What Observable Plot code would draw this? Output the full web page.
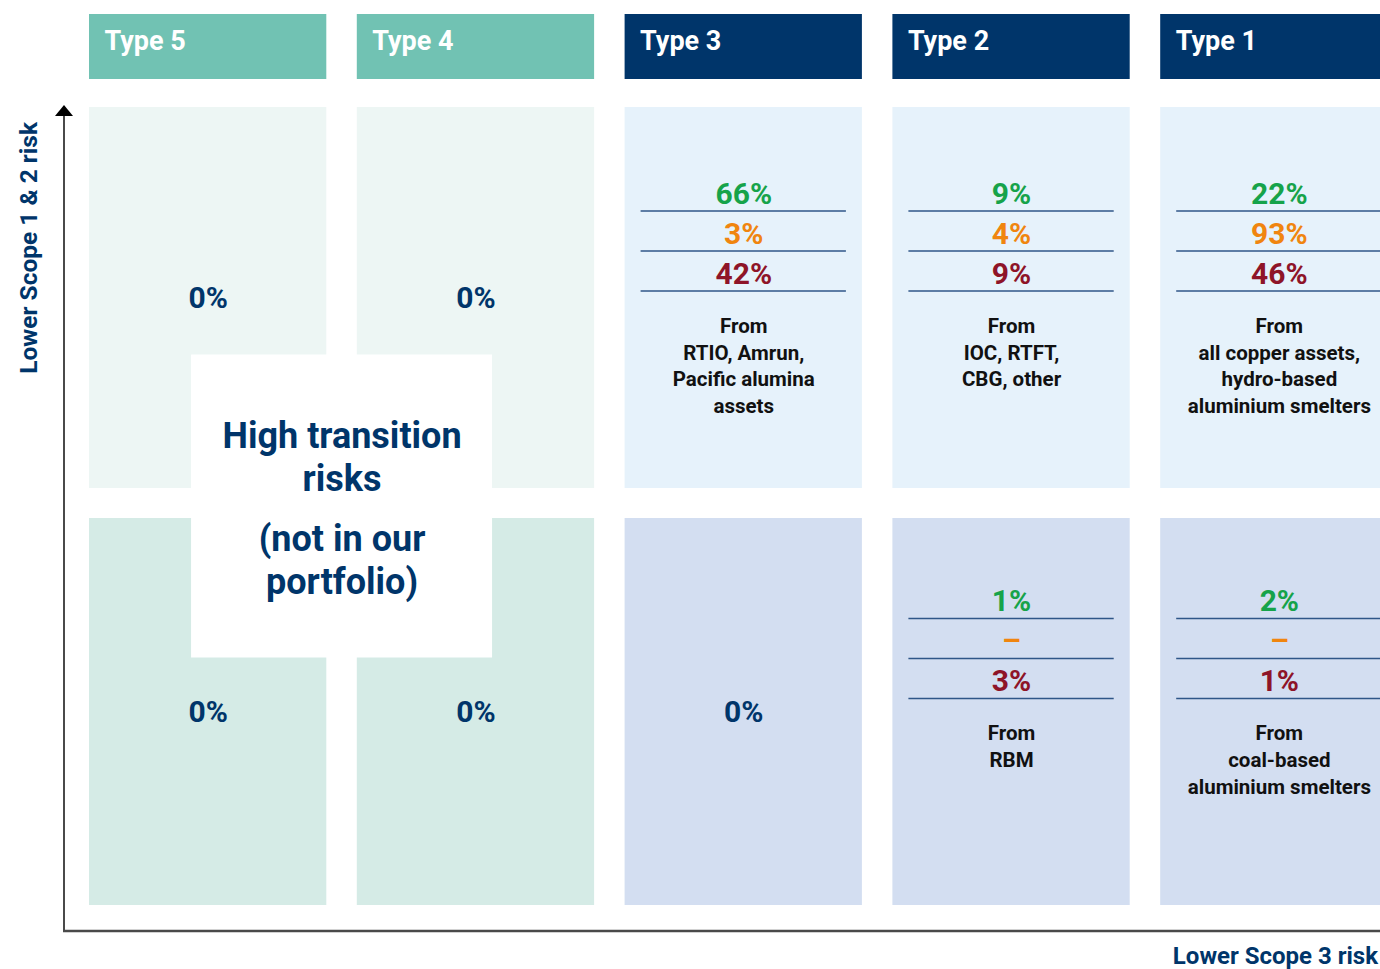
<!DOCTYPE html>
<html>
<head>
<meta charset="utf-8">
<script src="https://cdn.jsdelivr.net/npm/d3@7"></script>
<script src="https://cdn.jsdelivr.net/npm/@observablehq/plot@0.6"></script>
<style>
  html, body { margin: 0; padding: 0; background: #fff; overflow: hidden; }
  #chart svg { display: block; }
</style>
</head>
<body>
<div id="chart"></div>
<script>
// ---------------- DATA ----------------
const types = ["Type 5", "Type 4", "Type 3", "Type 2", "Type 1"];
const typeGroups = ["teal", "teal", "navy", "navy", "navy"];
const rows = ["upper", "lower"];

const upperGreen  = [null, null, "66%", "9%", "22%"];
const upperOrange = [null, null, "3%", "4%", "93%"];
const upperRed    = [null, null, "42%", "9%", "46%"];
const upperSources = [null, null,
  "From\nRTIO, Amrun,\nPacific alumina\nassets",
  "From\nIOC, RTFT,\nCBG, other",
  "From\nall copper assets,\nhydro-based\naluminium smelters"];

const lowerGreen  = [null, null, null, "1%", "2%"];
const lowerOrange = [null, null, null, "–", "–"];
const lowerRed    = [null, null, null, "3%", "1%"];
const lowerSources = [null, null, null,
  "From\nRBM",
  "From\ncoal-based\naluminium smelters"];

const emptyValue = "0%";
const overlayTitle = "High transition\nrisks";
const overlayNote = "(not in our\nportfolio)";
const yAxisLabel = "Lower Scope 1 & 2 risk";
const xAxisLabel = "Lower Scope 3 risk";

// ---------------- STYLE / LAYOUT ----------------
const W = 1380, H = 969;
const NAVY = "#00356a", TEAL = "#71c2b3";
const GREEN = "#16a34a", ORANGE = "#f0850f", RED = "#8e1428";
const RULE = "#2f5688", INK = "#111111", AXIS = "#4a4a4a";
const FONT = "Roboto, 'Noto Sans', sans-serif";
const headerFill = {teal: TEAL, navy: NAVY};
const cellFill = {
  teal: {upper: "#edf6f4", lower: "#d5ebe6"},
  navy: {upper: "#e6f2fb", lower: "#d3def1"}
};
const HEADER = [14, 79];
const ROW = {upper: [107, 488], lower: [518, 905]};
const CONTENT_TOP = {upper: 107, lower: 514.5};
const X0 = 89, STEP = 267.8, GAP = 30.5;
const PAD = GAP / STEP;
const BW = STEP - GAP;
const X1 = X0 + STEP * types.length - GAP;

// table built from arrays
const cells = [];
rows.forEach(row => types.forEach((type, i) => {
  const g = row === "upper" ? upperGreen : lowerGreen;
  const o = row === "upper" ? upperOrange : lowerOrange;
  const r = row === "upper" ? upperRed : lowerRed;
  const s = row === "upper" ? upperSources : lowerSources;
  cells.push({type, row, group: typeGroups[i], green: g[i], orange: o[i], red: r[i], source: s[i]});
}));
const filled = cells.filter(d => d.green != null);
const empty = cells.filter(d => d.green == null);
const headers = types.map((t, i) => ({type: t, group: typeGroups[i]}));

// custom mark: axes, arrow head, white overlay box, axis titles
function decorations(index, scales) {
  const sx = scales.x;
  const g = d3.create("svg:g");
  const xa = sx("Type 5") - 25;           // y-axis position
  const ya = ROW.lower[1] + 26;           // x-axis position
  g.append("line").attr("x1", xa).attr("x2", xa).attr("y1", ya + 1).attr("y2", ROW.upper[0] + 8)
    .attr("stroke", AXIS).attr("stroke-width", 2);
  g.append("path").attr("d", `M${xa},${ROW.upper[0] - 2}L${xa - 9},${ROW.upper[0] + 9}L${xa + 9},${ROW.upper[0] + 9}Z`)
    .attr("fill", "#000");
  g.append("line").attr("x1", xa - 1).attr("x2", W).attr("y1", ya).attr("y2", ya)
    .attr("stroke", AXIS).attr("stroke-width", 2.5);
  // overlay box centred on the gutter crossing between Type 5 and Type 4
  const cx = (sx("Type 5") + sx("Type 4") + BW) / 2;
  const cy = (ROW.upper[1] + ROW.lower[0]) / 2 + 3;
  g.append("rect").attr("x", cx - 150.5).attr("y", cy - 151.5).attr("width", 301).attr("height", 303)
    .attr("fill", "#fff");
  g.append("text").attr("transform", `translate(${xa - 27},${ROW.upper[0] + 15}) rotate(-90)`)
    .attr("text-anchor", "end").attr("fill", NAVY).attr("font-family", FONT)
    .attr("font-weight", 700).attr("font-size", 24.5).text(yAxisLabel);
  g.append("text").attr("x", W - 2).attr("y", ya + 33)
    .attr("text-anchor", "end").attr("fill", NAVY).attr("font-family", FONT)
    .attr("font-weight", 700).attr("font-size", 24).text(xAxisLabel);
  return g.node();
}

const rowTop = d => CONTENT_TOP[d.row];
const valueOpts = {x: "type", fontSize: 30, fontWeight: 700, fontFamily: FONT};
const ruleOpts = {x: "type", stroke: RULE, strokeWidth: 1.3, insetLeft: 16, insetRight: 16};

const plot = Plot.plot({
  width: W, height: H,
  margin: 0,
  style: {fontFamily: FONT, background: "#fff", overflow: "hidden"},
  x: {type: "band", domain: types, range: [X0, X1], paddingInner: PAD, paddingOuter: 0, round: false, axis: null},
  y: {type: "linear", domain: [0, H], range: [0, H], axis: null},
  color: {type: "identity"},
  marks: [
    // header bars
    Plot.barY(headers, {x: "type", y1: () => HEADER[0], y2: () => HEADER[1], fill: d => headerFill[d.group]}),
    // cell backgrounds
    Plot.barY(cells, {x: "type", y1: d => ROW[d.row][0], y2: d => ROW[d.row][1], fill: d => cellFill[d.group][d.row]}),
    decorations,
    // header labels
    Plot.text(headers, {x: "type", y: () => (HEADER[0] + HEADER[1]) / 2 - 6, text: "type", textAnchor: "start",
      dx: -BW / 2 + 15, fill: "#fff", fontSize: 27, fontWeight: 700, fontFamily: FONT}),
    // empty cells
    Plot.text(empty, {x: "type", y: d => (ROW[d.row][0] + ROW[d.row][1]) / 2, text: () => emptyValue,
      fill: NAVY, fontSize: 30, fontWeight: 700, fontFamily: FONT}),
    // values
    Plot.text(filled, {...valueOpts, y: d => rowTop(d) + 86.5, text: "green", fill: GREEN}),
    Plot.text(filled, {...valueOpts, y: d => rowTop(d) + 126.5, text: "orange", fill: ORANGE}),
    Plot.text(filled, {...valueOpts, y: d => rowTop(d) + 166.5, text: "red", fill: RED}),
    Plot.tickY(filled, {...ruleOpts, y: d => rowTop(d) + 103.5}),
    Plot.tickY(filled, {...ruleOpts, y: d => rowTop(d) + 143.5}),
    Plot.tickY(filled, {...ruleOpts, y: d => rowTop(d) + 183.5}),
    // sources
    Plot.text(filled, {x: "type", y: d => rowTop(d) + 206.5, text: "source", lineAnchor: "top", lineHeight: 1.3,
      fill: INK, fontSize: 20.5, fontWeight: 700, fontFamily: FONT}),
    // overlay texts
    Plot.text([overlayTitle], {x: () => "Type 5", dx: STEP / 2, y: () => 455, text: d => d, lineHeight: 1.2,
      fill: NAVY, fontSize: 36, fontWeight: 700, fontFamily: FONT}),
    Plot.text([overlayNote], {x: () => "Type 5", dx: STEP / 2, y: () => 558, text: d => d, lineHeight: 1.2,
      fill: NAVY, fontSize: 36, fontWeight: 700, fontFamily: FONT})
  ]
});
document.getElementById("chart").append(plot);
</script>
</body>
</html>
